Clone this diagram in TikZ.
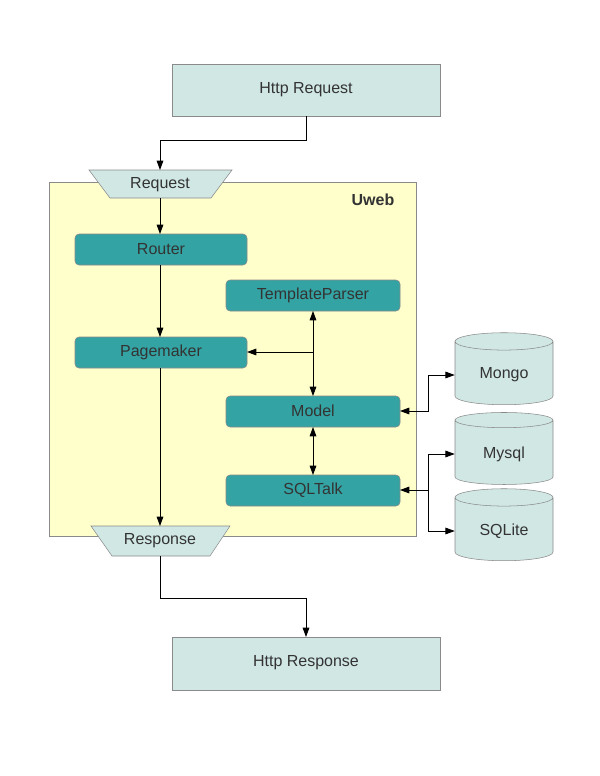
\documentclass[tikz,border=0pt]{standalone}
\usepackage{fontspec}
\setmainfont{Liberation Sans}
\usetikzlibrary{shapes.geometric,arrows.meta}
\definecolor{paleteal}{HTML}{D0E7E4}
\definecolor{darkteal}{HTML}{33A3A3}
\definecolor{paleyellow}{HTML}{FFFFCC}
\definecolor{txtgray}{HTML}{333333}
\definecolor{edgegray}{HTML}{8A8A8A}
\begin{document}
\begin{tikzpicture}[
            x = 0.75pt, y = -0.75pt, % pixel grid
            > = {Triangle[length=7pt,width=5pt]}, % arrow head style
            semithick, % line style
            every node/.style = {text=txtgray, font=\fontsize{12}{14}\selectfont},
            outer/.style = {draw=edgegray, fill=paleteal, thin},
            module/.style = {draw=edgegray, fill=darkteal, rounded corners=3pt, thin},
            store/.style = {cylinder, shape border rotate=90, aspect=0.3, draw=edgegray,
                            fill=paleteal, thin, minimum width=73.5pt, minimum height=54pt}
        ]
\useasboundingbox (0,0) rectangle (600,776);
% outer frame
\draw[draw=edgegray, fill=paleyellow, thin] (49,182) rectangle (416,536);
\node[font=\bfseries\fontsize{12}{14}\selectfont] (uweb) at (373,200) {Uweb};

\draw[outer] (172,64) rectangle (440,116);
\node (httpreq) at (306,90) {Http Request};
\draw[outer] (172,637) rectangle (440,690);
\node (httpresp) at (306,663) {Http Response};

\draw[outer] (89,170) -- (232,170) -- (211,198) -- (110,198) -- cycle;
\node (request) at (160,185) {Request};
\draw[outer] (91,526) -- (230,526) -- (210,556) -- (112,556) -- cycle;
\node (response) at (160,541) {Response};

\draw[module] (75,234) rectangle (247,265);
\node (router) at (161,249) {Router};
\draw[module] (226,280) rectangle (400,311);
\node (tparser) at (313,295) {TemplateParser};
\draw[module] (75,337) rectangle (247,368);
\node (pagemaker) at (161,352) {Pagemaker};
\draw[module] (226,396) rectangle (400,427);
\node (model) at (313,411) {Model};
\draw[module] (226,475) rectangle (400,506);
\node (sqltalk) at (313,490) {SQLTalk};

\node[store] (mongo) at (504,375) {Mongo};
\node[store] (mysql) at (504,454) {Mysql};
\node[store] (sqlite) at (504,531) {SQLite};

% connectors
\coordinate (reqtop) at (160,170);
\coordinate (reqbot) at (160,198);
\coordinate (resptop) at (160,526);
\coordinate (respbot) at (160,556);
\draw[->] (306,116) |- (160,140) -- (reqtop);
\draw[->] (reqbot) -- (160,234);
\draw[->] (160,265) -- (160,337);
\draw[->] (160,368) -- (resptop);
\draw[->] (respbot) |- (306,598) -- (306,637);
\draw[<->] (313,311) -- (313,396);
\draw[->] (313,352) -- (247,352);
\draw[<->] (313,427) -- (313,475);
\draw[<->] (400,411) -- (428,411) |- (mongo.west);
\draw[<-] (400,490) -- (428,490);
\draw[->] (428,490) |- (mysql.west);
\draw[->] (428,490) |- (sqlite.west);
\end{tikzpicture}
\end{document}
